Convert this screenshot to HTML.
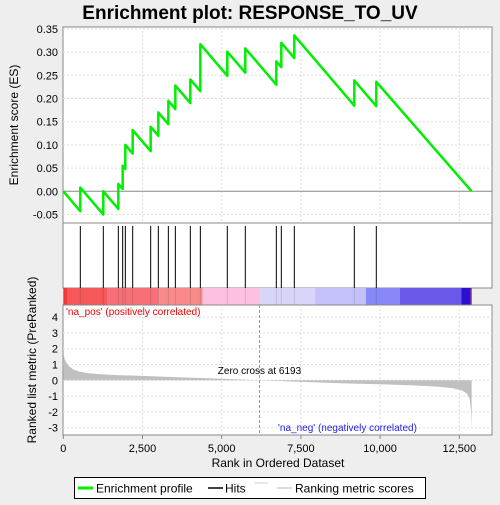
<!DOCTYPE html>
<html><head><meta charset="utf-8"><style>
body{margin:0;background:#eeeeee;font-family:"Liberation Sans",sans-serif}
svg text{font-family:"Liberation Sans",sans-serif}
</style></head><body>
<svg id="c" width="500" height="500" xmlns="http://www.w3.org/2000/svg">
<rect x="0" y="0" width="500" height="500" fill="#eeeeee"/>
<text x="250" y="19" text-anchor="middle" font-size="19" font-weight="bold" fill="#000">Enrichment plot: RESPONSE_TO_UV</text>
<g id="gtop"></g><g id="ghits"></g><g id="gbar"></g><g id="gbot"></g>
<text x="18" y="125" transform="rotate(-90 18 125)" text-anchor="middle" font-size="12">Enrichment score (ES)</text>
<text x="36" y="360" transform="rotate(-90 36 360)" text-anchor="middle" font-size="12">Ranked list metric (PreRanked)</text>
<text x="278" y="467" text-anchor="middle" font-size="12">Rank in Ordered Dataset</text>
<g>
<rect x="74.5" y="477.5" width="351" height="21" fill="#fff" stroke="#000"/>
<line x1="78" y1="488" x2="93" y2="488" stroke="#00ee00" stroke-width="3"/>
<text x="96" y="492.5" font-size="12">Enrichment profile</text>
<line x1="208" y1="488" x2="223" y2="488" stroke="#000" stroke-width="1.5"/>
<text x="225" y="492.5" font-size="12">Hits</text>
<line x1="255" y1="483" x2="268" y2="483" stroke="#ccc"/>
<line x1="277" y1="488" x2="292" y2="488" stroke="#bbb"/>
<text x="295" y="492.5" font-size="12">Ranking metric scores</text>
</g>
</svg>
<script>
const hitRanks=[537,1263,1737,1874,1958,2190,2758,3000,3316,3537,4010,4326,5177,5745,6724,6882,7292,9186,9880];
const esAfterHit=[0.008,0.0,0.016,0.055,0.10,0.132,0.139,0.17,0.195,0.228,0.241,0.317,0.301,0.308,0.28,0.32,0.336,0.239,0.236];
const metricRanks=[0,50,150,300,500,800,1200,1800,2500,3500,5000,6193,7500,9000,10000,11000,11800,12300,12600,12750,12830,12870,12890];
const metricVals=[1.7,1.3,0.95,0.7,0.55,0.45,0.38,0.32,0.28,0.2,0.1,0,-0.1,-0.2,-0.25,-0.32,-0.4,-0.5,-0.65,-0.85,-1.2,-2.0,-3.1];
const esTicks=[0.35,0.30,0.25,0.20,0.15,0.10,0.05,0.00,-0.05];
const metricTicks=[4,3,2,1,0,-1,-2,-3];
const xTicks=[0,2500,5000,7500,10000,12500];
const N=12890, slope=8.0e-5;
const NS='http://www.w3.org/2000/svg';
const L=63,R=492;
const X=r=>63.3+r*0.03168;
const YE=v=>191.3-v*464;
const YM=v=>380.3-v*15.8;
function mk(p,t,a){const e=document.createElementNS(NS,t);for(const k in a)e.setAttribute(k,a[k]);p.appendChild(e);return e;}
const gTop=document.getElementById('gtop'),gBot=document.getElementById('gbot'),gHits=document.getElementById('ghits'),gBar=document.getElementById('gbar');
let r1=mk(gTop,'rect',{x:L,y:27,width:R-L,height:196,fill:'#fff',stroke:'#888'});


let r2=mk(gHits,'rect',{x:L,y:223,width:R-L,height:65,fill:'#fff',stroke:'#888'});


let r3=mk(gBot,'rect',{x:L,y:305,width:R-L,height:130,fill:'#fff',stroke:'#888'});


xTicks.forEach(t=>{if(t>0){mk(gTop,'line',{x1:X(t),x2:X(t),y1:27,y2:223,stroke:'#ddd','stroke-dasharray':'2,2'});mk(gBot,'line',{x1:X(t),x2:X(t),y1:305,y2:435,stroke:'#ddd','stroke-dasharray':'2,2'});}
 let tl=mk(gBot,'text',{x:X(t),y:452,'text-anchor':'middle','font-size':'11'});tl.textContent=t.toLocaleString('en-US');
 
 
 mk(gBot,'line',{x1:X(t),x2:X(t),y1:435,y2:439,stroke:'#888'});});
esTicks.forEach(v=>{mk(gTop,'line',{x1:L,x2:R,y1:YE(v),y2:YE(v),stroke:v===0?'#888':'#ddd','stroke-dasharray':v===0?'none':'2,2'});
 let t=mk(gTop,'text',{x:58,y:YE(v)+4,'text-anchor':'end','font-size':'11'});t.textContent=v.toFixed(2);
 
 });
metricTicks.forEach(v=>{mk(gBot,'line',{x1:L,x2:R,y1:YM(v),y2:YM(v),stroke:'#ddd','stroke-dasharray':'2,2'});
 let t=mk(gBot,'text',{x:58,y:YM(v)+4,'text-anchor':'end','font-size':'11'});t.textContent=v;
 
 });
let pts=[[0,0]],cur=0,last=0;
hitRanks.forEach((h,i)=>{cur=cur-slope*(h-last);pts.push([h,cur]);cur=esAfterHit[i];pts.push([h,cur]);last=h;});
pts.push([N,0]);
let es=mk(gTop,'polyline',{points:pts.map(p=>X(p[0])+','+YE(p[1])).join(' '),fill:'none',stroke:'#00ee00','stroke-width':2.5,'stroke-linejoin':'round'});


hitRanks.forEach(h=>{let l=mk(gHits,'line',{x1:X(h),x2:X(h),y1:226,y2:288,stroke:'#000','stroke-width':1});
 
 });
const segs=[[0,130,'#f03838'],[130,1380,'#f55858'],[1380,3000,'#f77078'],[3000,4400,'#f98a8c'],[4400,6193,'#fcc0e0'],[6193,7950,'#d8d6f8'],[7950,9550,'#c4c0f8'],[9550,10620,'#8888f8'],[10620,12560,'#6a58e8'],[12560,12840,'#2c10d0'],[12840,12890,'#6020a0']];
segs.forEach(s=>{let r=mk(gBar,'rect',{x:X(s[0]),y:288,width:X(s[1])-X(s[0]),height:17,fill:s[2]});
 
 });
hitRanks.forEach(h=>mk(gBar,'line',{x1:X(h),x2:X(h),y1:288,y2:305,stroke:'rgba(0,0,0,0.12)'}));
let mp=[[X(0),YM(0)]];metricRanks.forEach((r,i)=>mp.push([X(r),YM(metricVals[i])]));mp.push([X(N),YM(0)]);
let area=mk(gBot,'polygon',{points:mp.map(p=>p.join(',')).join(' '),fill:'#c0c0c0'});


mk(gBot,'line',{x1:X(6193),x2:X(6193),y1:305,y2:435,stroke:'#999','stroke-dasharray':'3,2'});
let z=mk(gBot,'text',{x:X(6193),y:374,'text-anchor':'middle','font-size':'10'});z.textContent='Zero cross at 6193';


let pl=mk(gBot,'text',{x:66,y:315,'font-size':'10',fill:'#ee0000'});pl.textContent="'na_pos' (positively correlated)";


let nl=mk(gBot,'text',{x:278,y:431,'font-size':'10',fill:'#2222ee'});nl.textContent="'na_neg' (negatively correlated)";


</script>
</body></html>
